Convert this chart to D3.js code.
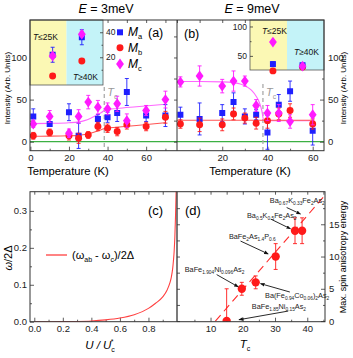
<!DOCTYPE html>
<html><head><meta charset="utf-8">
<script src="https://cdn.jsdelivr.net/npm/d3@7"></script>
<style>
body{margin:0;background:#fff}
svg{font-family:"Liberation Sans",Arial,sans-serif}
.ax path{stroke:none}
.ax line{stroke:#333;stroke-width:0.8}
.ax text{fill:#222}
</style></head><body><svg id="c" width="353" height="358"></svg>
<script>
// ---- panel (a) E = 3meV ----
const tA = [1.5, 10, 20, 25, 30, 35, 40, 45, 50, 60, 70];
const maA = [30, 21, 35, 7, null, 27, 29, 34, 59, 31, 31];
const maAerr = [9, 3, 10, 15, 0, 5, 6, 10, 16, 7, 13];
const mbA = [7, 11, 7, 4, 8, 18, 16, 12, 20, 18, 29];
const mbAerr = [4, 4, 5, 6, 4, 5, 5, 5, 5, 5, 7];
const mcA = [21, 30, 10, 30, 47, 41, 39, 45, 25, 37, 50];
const mcAerr = [4, 7, 5, 8, 8, 8, 7, 9, 8, 6, 10];
const fitTA = [0, 10, 20, 25, 28, 31, 34, 37, 39, 45, 55, 70];
const fitMcA = [21.5, 21.8, 22.5, 23.5, 25, 27.5, 31, 35, 38, 39.5, 41.5, 44.5];
const fitMbA = [6.5, 6.6, 7, 7.5, 8.5, 10, 12, 14.5, 16, 17.2, 19.2, 22.5];
const tcA = 38.3;
// inset (a): T<=25K, T>=40K
const insetA = { ma: [22, 36], maErr: [6, 6], mb: [5, 17], mbErr: [1.5, 1.5], mc: [21, 38.5], mcErr: [2, 2] };

// ---- panel (b) E = 9meV ----
const tB = [1.5, 10, 20, 25, 30, 35, 40, 45, 50, 60];
const maB = [32, 27, 34, 47, 30, 32, 11, 44, 60, 13];
const maBerr = [9, 19, 10, 11, 9, 6, 20, 12, 12, 17];
const mbB = [21, 20, 20, 33, 28, 22, 25, 33, 37, 21];
const mbBerr = [5, 8, 7, 7, 6, 7, 9, 7, 8, 6];
const mcB = [71, 78, 66, 72, 72, 43, 34, 34, 24, 32];
const mcBerr = [6, 12, 8, 12, 6, 7, 9, 10, 8, 12];
const fitTB = [0, 10, 20, 25, 28, 31, 33, 35, 36.5, 37.5, 38.3, 40, 50, 61];
const fitMcB = [71.5, 71.5, 71, 70, 68.5, 65, 61, 54, 46, 37, 26, 24.8, 24.8, 24.8];
const fitMbB = [[0, 25.5], [60.5, 25.5]];
const tcB = 38;
const insetB = { ma: [36, 34], maErr: [4, 4], mb: [24.5, 31], mbErr: [2, 2], mc: [73.5, 32.5], mcErr: [3, 3] };

// ---- panel (c) ----
const uRatio = [0, 0.1, 0.2, 0.3, 0.4, 0.5, 0.6, 0.7, 0.8, 0.85, 0.9, 0.93, 0.95, 0.96, 0.97, 0.975, 0.98, 0.985, 0.99, 0.995];
const omega = [0, 0, 0.0002, 0.0007, 0.002, 0.005, 0.01, 0.019, 0.036, 0.05, 0.067, 0.085, 0.105, 0.12, 0.145, 0.165, 0.19, 0.23, 0.29, 0.37];

// ---- panel (d) ----
const tcD = [15, 19.7, 24, 30.2, 36.2, 38.4];
const eD = [0, 5, 6, 10, 14, 14];
const eDerr = [5, 1, 1, 2, 2, 2];
const fitD = [[11.5, 0], [45.5, 19.5]];
const compounds = [
  { f: "Ba_{0.67}K_{0.33}Fe_{2}As_{2}", tx: 28.4, ty: 18.3, ax: 33.6, ay: 17.6, bx: 37.9, by: 16.6 },
  { f: "Ba_{0.5}K_{0.5}Fe_{2}As_{2}", tx: 21.3, ty: 15.9, ax: 28.7, ay: 15.8, bx: 34.8, by: 14.3 },
  { f: "BaFe_{2}As_{1.4}P_{0.6}", tx: 15.7, ty: 12.7, ax: 19.3, ay: 12.4, bx: 27.9, by: 10.4 },
  { f: "BaFe_{1.904}Ni_{0.096}As_{2}", tx: 2.0, ty: 7.6, ax: 11.9, ay: 7.2, bx: 18.6, by: 5.3 },
  { f: "Ba(Fe_{0.94}Co_{0.06})_{2}As_{2}", tx: 26.9, ty: 3.5, ax: 34.6, ay: 4.5, bx: 25.5, by: 5.8 },
  { f: "BaFe_{1.85}Ni_{0.15}As_{2}", tx: 22.8, ty: 1.8, ax: 34.1, ay: 1.55, bx: 18.8, by: 0.2 }
];

const BLUE = "#1f1fff", RED = "#ff1a1a", MAG = "#ff1aff";
const svg = d3.select("#c");

svg.append("defs").append("marker").attr("id", "arr").attr("viewBox", "0 0 10 10")
  .attr("refX", 9).attr("refY", 5).attr("markerWidth", 5).attr("markerHeight", 5)
  .attr("orient", "auto").append("path").attr("d", "M0,1L10,5L0,9z").attr("fill", "#111");

function clip(id, x0, y0, w, h) {
  svg.select("defs").append("clipPath").attr("id", id).append("rect")
    .attr("x", x0).attr("y", y0).attr("width", w).attr("height", h);
}

function axis(g, gen) { g.attr("class", "ax").call(gen); return g; }

function symbolFor(kind, size) {
  if (kind === "sq") return d3.symbol(d3.symbolSquare, size || 36);
  if (kind === "ci") return d3.symbol(d3.symbolCircle, size || 38);
  return d3.symbol(d3.symbolDiamond, size || 34);
}

function markers(g, x, y, xs, ys, errs, kind, color, size) {
  const pts = xs.map((t, i) => ({ t, v: ys[i], e: errs[i] })).filter(d => d.v != null);
  const eb = g.append("g").attr("stroke", color).attr("stroke-width", 0.9);
  pts.forEach(d => {
    const px = x(d.t), top = y(d.v + d.e), bot = y(d.v - d.e);
    eb.append("line").attr("x1", px).attr("x2", px).attr("y1", top).attr("y2", bot);
    eb.append("line").attr("x1", px - 2).attr("x2", px + 2).attr("y1", top).attr("y2", top);
    eb.append("line").attr("x1", px - 2).attr("x2", px + 2).attr("y1", bot).attr("y2", bot);
  });
  g.append("g").selectAll("path").data(pts).join("path")
    .attr("d", symbolFor(kind, size)).attr("fill", color)
    .attr("transform", d => `translate(${x(d.t)},${y(d.v)})` + (kind === "di" ? " scale(1.25,1)" : ""));
}

function frame(x0, y0, x1, y1) {
  svg.append("rect").attr("x", x0).attr("y", y0).attr("width", x1 - x0).attr("height", y1 - y0)
    .attr("fill", "none").attr("stroke", "#333").attr("stroke-width", 1);
}

// ================= panels (a) & (b) =================
const top1 = 20, bot1 = 150.7;
const xA = d3.scaleLinear().domain([-0.2, 76]).range([30, 177]);
const xB = d3.scaleLinear().domain([0, 65]).range([177, 324]);
const yAB = d3.scaleLinear().domain([-10.7, 144.5]).range([bot1, top1]);

[[xA, "A"], [xB, "B"]].forEach(([x, k]) => clip("cl" + k, x.range()[0], top1, x.range()[1] - x.range()[0], bot1 - top1));

function tPanel(x, key, tv, ma, maE, mb, mbE, mc, mcE, fitT, fitMc, fitMb, tc, labelRight) {
  const g = svg.append("g");
  const x0 = x.range()[0], x1 = x.range()[1];
  // zero line
  g.append("line").attr("x1", x0).attr("x2", x1).attr("y1", yAB(0)).attr("y2", yAB(0))
    .attr("stroke", "#3cb043").attr("stroke-width", 1.2);
  const ticksX = key === "A" ? [0, 20, 40, 60] : [20, 40, 60];
  axis(g.append("g").attr("transform", `translate(0,${bot1})`),
    d3.axisBottom(x).tickValues(ticksX).tickSize(-4).tickPadding(4));
  axis(g.append("g").attr("transform", `translate(0,${bot1})`),
    d3.axisBottom(x).tickValues(d3.range(10, x.domain()[1], 20)).tickSize(-2).tickFormat(""));
  axis(g.append("g").attr("transform", `translate(0,${top1})`),
    d3.axisTop(x).tickValues(d3.range(0, x.domain()[1], 10)).tickSize(-3).tickFormat(""));
  const yv = [0, 50, 100], ym = [25, 75, 125];
  if (labelRight) {
    axis(g.append("g").attr("transform", `translate(${x1},0)`), d3.axisRight(yAB).tickValues(yv).tickSize(-4).tickPadding(4));
    axis(g.append("g").attr("transform", `translate(${x1},0)`), d3.axisRight(yAB).tickValues(ym).tickSize(-2).tickFormat(""));
  } else {
    axis(g.append("g").attr("transform", `translate(${x0},0)`), d3.axisLeft(yAB).tickValues(yv).tickSize(-4).tickPadding(3));
    axis(g.append("g").attr("transform", `translate(${x0},0)`), d3.axisLeft(yAB).tickValues(ym).tickSize(-2).tickFormat(""));
    axis(g.append("g").attr("transform", `translate(${x1},0)`), d3.axisRight(yAB).tickValues(yv.concat(ym)).tickSize(-3).tickFormat(""));
  }
  g.selectAll(".ax text").attr("font-size", 9.5);

  const pl = g.append("g").attr("clip-path", `url(#cl${key})`);
  // Tc dashed line
  pl.append("line").attr("x1", x(tc)).attr("x2", x(tc)).attr("y1", key === "A" ? 87 : 84).attr("y2", bot1)
    .attr("stroke", "#aaa").attr("stroke-width", 1.3).attr("stroke-dasharray", "4,3");
  const line = d3.line().x(d => x(d[0])).y(d => yAB(d[1])).curve(d3.curveMonotoneX);
  pl.append("path").attr("d", line(fitT.map((t, i) => [t, fitMc[i]]))).attr("fill", "none").attr("stroke", "#ff66ff").attr("stroke-width", 1.1);
  const mbPts = Array.isArray(fitMb[0]) ? fitMb : fitT.map((t, i) => [t, fitMb[i]]);
  pl.append("path").attr("d", line(mbPts)).attr("fill", "none").attr("stroke", "#ff5555").attr("stroke-width", 1.1);
  markers(pl, x, yAB, tv, ma, maE, "sq", BLUE);
  markers(pl, x, yAB, tv, mb, mbE, "ci", RED);
  markers(pl, x, yAB, tv, mc, mcE, "di", MAG);
  // Tc label
  const tl = g.append("text").attr("x", x(tc) + 3).attr("y", 96).attr("fill", "#999").attr("font-size", 11);
  tl.append("tspan").attr("font-style", "italic").text("T");
  tl.append("tspan").attr("font-size", 7).attr("dy", 2.5).text("c");
  return g;
}

tPanel(xA, "A", tA, maA, maAerr, mbA, mbAerr, mcA, mcAerr, fitTA, fitMcA, fitMbA, tcA, false);
tPanel(xB, "B", tB, maB, maBerr, mbB, mbBerr, mcB, mcBerr, fitTB, fitMcB, fitMbB, tcB, true);

// insets
function inset(x0, x1, y0, y1, ydom, data, axRight, tv, tm) {
  const g = svg.append("g");
  const xi = d3.scaleLinear().domain([0, 1]).range([x0, x1]);
  const yi = d3.scaleLinear().domain(ydom).range([y1, y0]);
  g.append("rect").attr("x", x0).attr("y", y0).attr("width", xi(0.5) - x0).attr("height", y1 - y0).attr("fill", "#fbf8b4");
  g.append("rect").attr("x", xi(0.5)).attr("y", y0).attr("width", x1 - xi(0.5)).attr("height", y1 - y0).attr("fill", "#c4f3f8");
  g.append("rect").attr("x", x0).attr("y", y0).attr("width", x1 - x0).attr("height", y1 - y0).attr("fill", "none").attr("stroke", "#555").attr("stroke-width", 0.8);
  if (axRight) {
    axis(g.append("g").attr("transform", `translate(${x1},0)`), d3.axisRight(yi).tickValues(tv).tickSize(-3).tickPadding(3));
    axis(g.append("g").attr("transform", `translate(${x1},0)`), d3.axisRight(yi).tickValues(tm).tickSize(-1.5).tickFormat(""));
  } else {
    axis(g.append("g").attr("transform", `translate(${x0},0)`), d3.axisLeft(yi).tickValues(tv).tickSize(-3).tickPadding(3));
    axis(g.append("g").attr("transform", `translate(${x0},0)`), d3.axisLeft(yi).tickValues(tm).tickSize(-1.5).tickFormat(""));
  }
  g.selectAll(".ax text").attr("font-size", 8.5);
  const pos = [0.31, 0.71];
  markers(g, xi, yi, pos, data.mb, data.mbErr, "ci", RED);
  markers(g, xi, yi, pos, data.ma, data.maErr, "sq", BLUE);
  markers(g, xi, yi, pos, data.mc, data.mcErr, "di", MAG);
  return { g, xi, yi };
}

function tlabel(g, x, y, sym) {
  const t = g.append("text").attr("x", x).attr("y", y).attr("font-size", 8.5).attr("fill", "#111");
  t.append("tspan").attr("font-style", "italic").text("T");
  t.append("tspan").text(sym);
}

const iA = inset(30, 103, 20, 85, [-2.2, 49.8], insetA, true, [20, 40], [10, 30]);
tlabel(iA.g, 33, 40, "≤25K");
tlabel(iA.g, 73, 80, "≥40K");
const iB = inset(250, 324, 20, 70, [26, 111], insetB, false, [50, 100], [75]);
tlabel(iB.g, 262, 34, "≤25K");
tlabel(iB.g, 294, 55, "≥40K");

// legend (a)
const leg = [["M", "a", "sq", BLUE, 32.3], ["M", "b", "ci", RED, 47.7], ["M", "c", "di", MAG, 64]];
leg.forEach(([m, s, k, c, y]) => {
  svg.append("path").attr("d", symbolFor(k)).attr("fill", c).attr("transform", `translate(120,${y})` + (k === "di" ? " scale(1.25,1)" : ""));
  const t = svg.append("text").attr("x", 128).attr("y", y + 4).attr("font-size", 12);
  t.append("tspan").attr("font-style", "italic").text(m);
  t.append("tspan").attr("font-size", 7.5).attr("dy", 3).text(s);
});
svg.append("text").attr("x", 148).attr("y", 37).attr("font-size", 12.5).text("(a)");
svg.append("text").attr("x", 184).attr("y", 38).attr("font-size", 12.5).text("(b)");

function title(x, s) {
  const t = svg.append("text").attr("x", x).attr("y", 13).attr("font-size", 12.5).attr("text-anchor", "middle");
  t.append("tspan").attr("font-style", "italic").text("E");
  t.append("tspan").text(" = " + s);
}
title(106, "3meV");
title(252, "9meV");

svg.append("text").attr("x", 68).attr("y", 175).attr("font-size", 11.3).attr("text-anchor", "middle").text("Temperature (K)");
svg.append("text").attr("x", 250).attr("y", 175).attr("font-size", 11.3).attr("text-anchor", "middle").text("Temperature (K)");
svg.append("text").attr("transform", "translate(10,88) rotate(-90)").attr("font-size", 8).attr("text-anchor", "middle").text("Intensity (Arb. Units)");
svg.append("text").attr("transform", "translate(346,88) rotate(-90)").attr("font-size", 8).attr("text-anchor", "middle").text("Intensity (Arb. Units)");

frame(30, top1, 324, bot1);
svg.append("line").attr("x1", 177).attr("x2", 177).attr("y1", top1).attr("y2", bot1).attr("stroke", "#333");

// ================= panel (c) =================
const top2 = 191.7, bot2 = 321.7;
const xC = d3.scaleLinear().domain([-0.03, 1.0]).range([30, 177]);
const yC = d3.scaleLinear().domain([0, 0.352]).range([bot2, top2]);
clip("clC", 30, top2, 147, bot2 - top2);
const gc = svg.append("g");
axis(gc.append("g").attr("transform", `translate(0,${bot2})`), d3.axisBottom(xC).tickValues([0, 0.2, 0.4, 0.6, 0.8]).tickFormat(d3.format(".1f")).tickSize(-4).tickPadding(4));
axis(gc.append("g").attr("transform", `translate(0,${bot2})`), d3.axisBottom(xC).tickValues([0.1, 0.3, 0.5, 0.7, 0.9]).tickSize(-2).tickFormat(""));
axis(gc.append("g").attr("transform", `translate(0,${top2})`), d3.axisTop(xC).tickValues(d3.range(0, 1, 0.1)).tickSize(-3).tickFormat(""));
axis(gc.append("g").attr("transform", "translate(30,0)"), d3.axisLeft(yC).tickValues([0, 0.1, 0.2, 0.3]).tickFormat(d3.format(".1f")).tickSize(-4).tickPadding(3));
axis(gc.append("g").attr("transform", "translate(30,0)"), d3.axisLeft(yC).tickValues([0.05, 0.15, 0.25]).tickSize(-2).tickFormat(""));
gc.selectAll(".ax text").attr("font-size", 9.5);
gc.append("g").attr("clip-path", "url(#clC)").append("path")
  .attr("d", d3.line().x((d, i) => xC(uRatio[i])).y(d => yC(d)).curve(d3.curveMonotoneX)(omega))
  .attr("fill", "none").attr("stroke", "#ff4040").attr("stroke-width", 1.1);
gc.append("line").attr("x1", 46).attr("x2", 67).attr("y1", 255).attr("y2", 255).attr("stroke", "#ff4040").attr("stroke-width", 1.3);
const lt = gc.append("text").attr("x", 72).attr("y", 259).attr("font-size", 11);
lt.append("tspan").text("(ω");
lt.append("tspan").attr("font-size", 7).attr("dy", 2.5).text("ab");
lt.append("tspan").attr("dy", -2.5).text(" - ω");
lt.append("tspan").attr("font-size", 7).attr("dy", 2.5).text("c");
lt.append("tspan").attr("dy", -2.5).text(")/2Δ");
gc.append("text").attr("x", 148).attr("y", 215).attr("font-size", 13).text("(c)");
const yl = gc.append("text").attr("transform", "translate(12,258) rotate(-90)").attr("font-size", 11).attr("text-anchor", "middle");
yl.append("tspan").attr("font-style", "italic").text("ω");
yl.append("tspan").text("/2Δ");
const xl = gc.append("text").attr("x", 100).attr("y", 349).attr("font-size", 11.5).attr("text-anchor", "middle");
xl.append("tspan").attr("font-style", "italic").text("U / U");
xl.append("tspan").attr("font-size", 7).attr("dy", 2.5).text("c");
xl.append("tspan").attr("font-size", 7).attr("dy", -8).attr("dx", -4).text("*");

// ================= panel (d) =================
const xD = d3.scaleLinear().domain([-0.4, 45.5]).range([177, 325]);
const yD = d3.scaleLinear().domain([-0.1, 20.05]).range([bot2, top2]);
clip("clD", 177, top2, 148, bot2 - top2);
const gd = svg.append("g");
axis(gd.append("g").attr("transform", `translate(0,${bot2})`), d3.axisBottom(xD).tickValues([10, 20, 30, 40]).tickSize(-4).tickPadding(4));
axis(gd.append("g").attr("transform", `translate(0,${bot2})`), d3.axisBottom(xD).tickValues([5, 15, 25, 35, 45]).tickSize(-2).tickFormat(""));
axis(gd.append("g").attr("transform", `translate(0,${top2})`), d3.axisTop(xD).tickValues(d3.range(5, 46, 5)).tickSize(-3).tickFormat(""));
axis(gd.append("g").attr("transform", "translate(325,0)"), d3.axisRight(yD).tickValues([0, 5, 10, 15]).tickSize(-4).tickPadding(4));
axis(gd.append("g").attr("transform", "translate(325,0)"), d3.axisRight(yD).tickValues([2.5, 7.5, 12.5, 17.5]).tickSize(-2).tickFormat(""));
axis(gd.append("g").attr("transform", "translate(177,0)"), d3.axisLeft(yD).tickValues(d3.range(0, 20, 2.5)).tickSize(-3).tickFormat(""));
gd.selectAll(".ax text").attr("font-size", 9.5);
const pd = gd.append("g").attr("clip-path", "url(#clD)");
pd.append("path").attr("d", d3.line().x(d => xD(d[0])).y(d => yD(d[1]))(fitD))
  .attr("fill", "none").attr("stroke", "#ff2a2a").attr("stroke-width", 1.1).attr("stroke-dasharray", "8,5");
markers(pd, xD, yD, tcD, eD, eDerr, "ci", RED, 55);

function formula(g, x, y, f) {
  const t = g.append("text").attr("x", x).attr("y", y).attr("font-size", 7.3).attr("fill", "#222");
  const parts = f.split(/(_\{[^}]*\})/).filter(s => s.length);
  let sub = false;
  parts.forEach(p => {
    if (p.startsWith("_{")) {
      t.append("tspan").attr("font-size", 4.8).attr("dy", sub ? 0 : 2).text(p.slice(2, -1));
      sub = true;
    } else {
      t.append("tspan").attr("dy", sub ? -2 : 0).text(p);
      sub = false;
    }
  });
}
compounds.forEach(c => {
  formula(gd, xD(c.tx), yD(c.ty), c.f);
  gd.append("line").attr("x1", xD(c.ax)).attr("y1", yD(c.ay)).attr("x2", xD(c.bx)).attr("y2", yD(c.by))
    .attr("stroke", "#111").attr("stroke-width", 0.9).attr("marker-end", "url(#arr)");
});
gd.append("text").attr("x", 185).attr("y", 215).attr("font-size", 13).text("(d)");
const xl2 = gd.append("text").attr("x", 245).attr("y", 348).attr("font-size", 11.5).attr("text-anchor", "middle");
xl2.append("tspan").attr("font-style", "italic").text("T");
xl2.append("tspan").attr("font-size", 7).attr("dy", 2.5).text("c");
gd.append("text").attr("transform", "translate(346,257) rotate(-90)").attr("font-size", 9).attr("text-anchor", "middle").text("Max. spin anisotropy energy");

frame(30, top2, 325, bot2);
svg.append("line").attr("x1", 177).attr("x2", 177).attr("y1", top2).attr("y2", bot2).attr("stroke", "#333").attr("stroke-width", 1.3);
</script></body></html>
